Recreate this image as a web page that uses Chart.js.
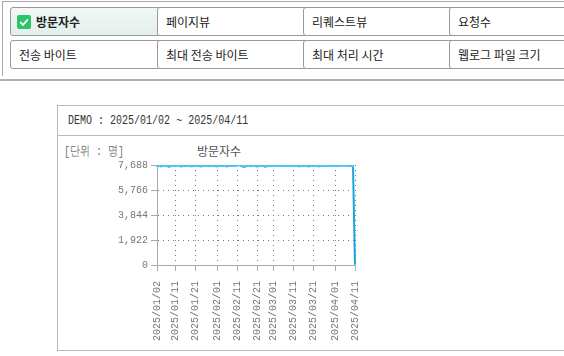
<!DOCTYPE html>
<html>
<head>
<meta charset="utf-8">
<script src="https://cdn.jsdelivr.net/npm/chart.js@4"></script>
<style>
  body { margin: 0; width: 564px; height: 356px; overflow: hidden; background: #fff; position: relative; font-family: "Noto Sans CJK KR", sans-serif; }
  .menu { position: absolute; left: 2px; top: 1px; width: 600px; height: 74px; border-top: 1px solid #aaa; border-left: 1px solid #aaa; }
  .rule { position: absolute; left: 0; top: 79px; width: 564px; height: 0; border-top: 2px solid #b0b0b0; }
  .btn { position: absolute; width: 141px; height: 27px; border: 1px solid #999; border-radius: 3px; background: #fff; font-size: 12px; line-height: 27px; color: #222; padding-left: 8px; box-sizing: content-box; white-space: nowrap; }
  .btn.on { background: linear-gradient(#f2f8f6, #e3efeb); font-weight: bold; padding-left: 6px; width: 143px; }
  .chk { display: inline-block; width: 14px; height: 14px; vertical-align: -2px; margin-right: 5px; }
  .panel { position: absolute; left: 57px; top: 105px; width: 600px; height: 244px; border: 1px solid #bbb; }
  .head { height: 29px; border-bottom: 1px solid #bbb; }
  .mono { position: absolute; font-family: "Liberation Mono", monospace; font-size: 13px; transform-origin: 0 0; transform: scaleX(0.77); white-space: nowrap; }
  .htext { left: 10px; top: 7px; color: #333; }
  .unit { left: 6px; top: 36px; color: #777; }
  .ttl { position: absolute; left: 139px; top: 36px; font-size: 12px; color: #555; }
  canvas { position: absolute; left: 0; top: 30px; }
</style>
</head>
<body>
<div class="menu"></div>
<div class="rule"></div>
<div class="btn on" style="left:10px;top:7px"><svg class="chk" viewBox="0 0 14 14"><rect width="14" height="14" rx="2" fill="#2cc46b"/><path d="M3.2 7.2 L6 10 L10.8 4.4" stroke="#fff" stroke-width="1.8" fill="none"/></svg>방문자수</div>
<div class="btn" style="left:157px;top:7px">페이지뷰</div>
<div class="btn" style="left:303px;top:7px">리퀘스트뷰</div>
<div class="btn" style="left:449px;top:7px">요청수</div>
<div class="btn" style="left:10px;top:40px">전송 바이트</div>
<div class="btn" style="left:157px;top:40px">최대 전송 바이트</div>
<div class="btn" style="left:303px;top:40px">최대 처리 시간</div>
<div class="btn" style="left:449px;top:40px">웹로그 파일 크기</div>

<div class="panel">
  <div class="head"></div>
  <span class="mono htext">DEMO : 2025/01/02 ~ 2025/04/11</span>
  <span class="mono unit">[단위 : 명]</span>
  <span class="ttl">방문자수</span>
  <canvas id="chart" width="306" height="214"></canvas>
</div>

<script>
const startDate = '2025-01-02';
const dayCount = 100;
const tickDates = ['2025/01/02', '2025/01/11', '2025/01/21', '2025/02/01', '2025/02/11', '2025/02/21',
    '2025/03/01', '2025/03/11', '2025/03/21', '2025/04/01', '2025/04/11'];
const yTicks = [0, 1922, 3844, 5766, 7688];
const visits = [
    7640, 7612, 7598, 7630, 7655, 7602, 7560, 7615, 7640, 7625,
    7660, 7618, 7590, 7605, 7632, 7648, 7620, 7600, 7612, 7638,
    7626, 7610, 7594, 7618, 7642, 7630, 7606, 7620, 7644, 7612,
    7598, 7625, 7650, 7635, 7608, 7590, 7622, 7646, 7630, 7612,
    7660, 7688, 7620, 7575, 7540, 7652, 7640, 7615, 7668, 7630,
    7596, 7612, 7640, 7622, 7570, 7600, 7626, 7614, 7632, 7645,
    7620, 7606, 7628, 7640, 7618, 7632, 7650, 7624, 7610, 7636,
    7622, 7600, 7615, 7638, 7626, 7608, 7592, 7620, 7644, 7630,
    7612, 7598, 7624, 7610, 7632, 7618, 7604, 7626, 7640, 7622,
    7615, 7630, 7648, 7660, 7640, 7622, 7605, 7630, 7615, 0
];

// 일별 라벨
const days = [];
const d0 = new Date(startDate + 'T00:00:00Z');
for (let i = 0; i < dayCount; i++) {
    const d = new Date(d0.getTime() + i * 86400000);
    days.push(d.getUTCFullYear() + '/' + String(d.getUTCMonth() + 1).padStart(2, '0') + '/' + String(d.getUTCDate()).padStart(2, '0'));
}

const tickFont = {family: 'Liberation Mono', size: 10};
const gridColor = '#777';

new Chart(document.getElementById('chart'), {
    type: 'line',
    data: {
        labels: days,
        datasets: [{
            label: '방문자수',
            data: visits,
            borderColor: '#1aa3e2',
            borderWidth: 2,
            pointRadius: 1.2,
            pointBorderWidth: 0,
            pointBackgroundColor: '#55c3f2',
            tension: 0,
            fill: false
        }]
    },
    options: {
        responsive: false,
        animation: false,
        devicePixelRatio: 1,
        layout: {padding: {top: 29, right: 9, left: 0, bottom: 0}},
        plugins: {legend: {display: false}, tooltip: {enabled: false}},
        scales: {
            x: {
                afterFit: (s) => { s.height = 85; s.paddingLeft = 0; s.paddingRight = 0; },
                grid: {
                    color: (c) => c.index === 0 ? 'rgba(0,0,0,0)' : gridColor,
                    lineWidth: 1,
                    tickColor: '#aaa', tickBorderDash: [], tickLength: 6
                },
                border: {color: '#aaa', dash: [1, 4]},
                ticks: {
                    autoSkip: false, maxRotation: 90, minRotation: 90,
                    color: '#777', font: tickFont, padding: 10,
                    callback: function (v) {
                        const lab = this.getLabelForValue(v);
                        return tickDates.includes(lab) ? lab : null;
                    }
                }
            },
            y: {
                min: 0, max: 7688,
                afterFit: (s) => { s.width = 99; s.paddingTop = 0; s.paddingBottom = 0; },
                afterBuildTicks: (s) => { s.ticks = yTicks.map(v => ({value: v})); },
                grid: {
                    color: (c) => c.tick && c.tick.value === 0 ? 'rgba(0,0,0,0)' : gridColor,
                    lineWidth: 1,
                    tickColor: '#aaa', tickBorderDash: [], tickLength: 6
                },
                border: {color: '#aaa', dash: [1, 4]},
                ticks: {
                    color: '#777', font: tickFont, padding: 3,
                    callback: (v) => v.toLocaleString('en-US')
                }
            }
        }
    }
});
</script>
</body>
</html>
